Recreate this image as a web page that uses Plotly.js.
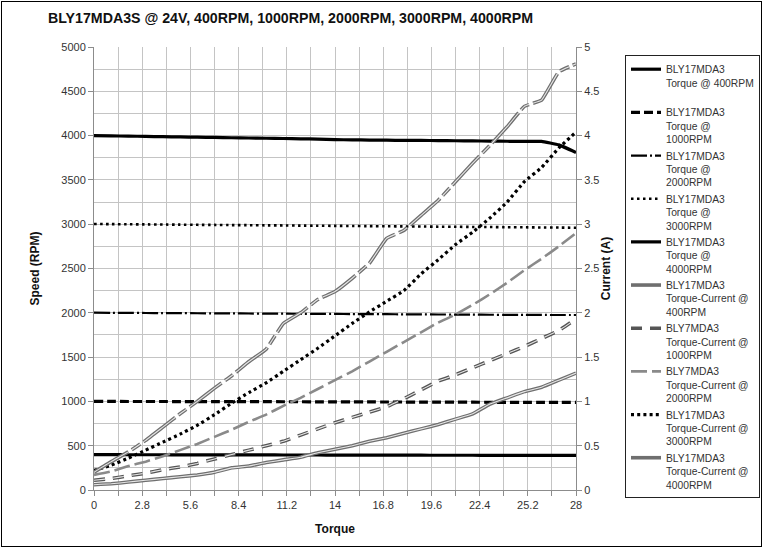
<!DOCTYPE html>
<html>
<head>
<meta charset="utf-8">
<script src="https://cdn.plot.ly/plotly-3.0.1.min.js"></script>
<style>
  html, body { margin: 0; padding: 0; background: #fff; }
  #wrap { position: relative; width: 763px; height: 548px; }
  #chart { position: absolute; left: 0; top: 0; width: 763px; height: 548px; }
  #frame { position: absolute; left: 1px; top: 1px; width: 759px; height: 544px; border: 1px solid #000; pointer-events: none; }
</style>
</head>
<body>
<div id="wrap"><div id="chart"></div><div id="frame"></div></div>
<script>
const torque = [0,1,2,3,4,5,6,7,8,9,10,11,12,13,14,15,16,17,18,19,20,21,22,23,24,25,26,27,28];

const speed400  = [399,399,398,398,398,397,397,397,396,396,396,395,395,395,394,394,394,393,393,393,392,392,392,391,391,391,390,390,390];
const speed1000 = [1000,1000,999,999,999,998,998,998,997,997,997,996,996,995,995,994,994,993,993,992,992,991,991,990,990,989,989,988,988];
const speed2000 = [2001,2000,1999,1998,1997,1996,1995,1994,1993,1992,1991,1990,1989,1988,1987,1986,1985,1984,1983,1982,1981,1980,1979,1978,1977,1976,1976,1975,1975];
const speed3000 = [3002,3001,2999,2998,2996,2995,2993,2992,2990,2989,2987,2986,2984,2983,2981,2980,2978,2977,2975,2974,2972,2971,2969,2968,2966,2965,2963,2962,2960];
const speed4000 = [4000,3997,3994,3991,3988,3985,3982,3979,3976,3973,3970,3967,3964,3961,3955,3952,3950,3948,3946,3945,3944,3942,3940,3938,3936,3934,3934,3895,3810];

const cur400  = [0.06,0.07,0.09,0.11,0.13,0.15,0.17,0.20,0.25,0.27,0.31,0.34,0.37,0.42,0.46,0.50,0.55,0.59,0.64,0.69,0.74,0.80,0.86,0.97,1.04,1.11,1.16,1.24,1.32];
const cur1000 = [0.11,0.13,0.16,0.19,0.23,0.26,0.30,0.35,0.40,0.45,0.50,0.55,0.62,0.69,0.76,0.82,0.88,0.94,1.03,1.13,1.23,1.30,1.38,1.46,1.54,1.62,1.71,1.80,1.93];
const cur2000 = [0.17,0.21,0.27,0.32,0.38,0.45,0.52,0.60,0.68,0.77,0.85,0.95,1.04,1.14,1.24,1.34,1.45,1.56,1.67,1.78,1.89,1.98,2.09,2.21,2.34,2.48,2.61,2.75,2.90];
const cur3000 = [0.22,0.28,0.36,0.45,0.54,0.63,0.73,0.85,0.98,1.10,1.21,1.34,1.47,1.60,1.74,1.88,2.01,2.13,2.25,2.44,2.60,2.77,2.91,3.07,3.25,3.48,3.64,3.86,4.04];
const cur4000 = [0.20,0.32,0.43,0.56,0.71,0.86,1.00,1.15,1.29,1.45,1.59,1.88,2.00,2.15,2.24,2.39,2.56,2.84,2.93,3.10,3.27,3.48,3.69,3.89,4.10,4.33,4.40,4.72,4.81];

const xTickVals = [0,2.8,5.6,8.4,11.2,14,16.8,19.6,22.4,25.2,28];
const xTickText = ['0','2.8','5.6','8.4','11.2','14','16.8','19.6','22.4','25.2','28'];
const y2TickVals = [0,0.5,1,1.5,2,2.5,3,3.5,4,4.5,5];
const y2TickText = ['0','0.5','1','1.5','2','2.5','3','3.5','4','4.5','5'];

const names = [
  'BLY17MDA3<br>Torque @ 400RPM<br>\u00a0',
  'BLY17MDA3<br>Torque @<br>1000RPM',
  'BLY17MDA3<br>Torque @<br>2000RPM',
  'BLY17MDA3<br>Torque @<br>3000RPM',
  'BLY17MDA3<br>Torque @<br>4000RPM',
  'BLY17MDA3<br>Torque-Current @<br>400RPM',
  'BLY7MDA3<br>Torque-Current @<br>1000RPM',
  'BLY7MDA3<br>Torque-Current @<br>2000RPM',
  'BLY17MDA3<br>Torque-Current @<br>3000RPM',
  'BLY17MDA3<br>Torque-Current @<br>4000RPM'
];

function tr(y, axis, name, color, width, dash, show) {
  return {x: torque, y: y, yaxis: axis, type: 'scatter', mode: 'lines', name: name,
          showlegend: show, hoverinfo: 'skip',
          line: {color: color, width: width, dash: dash, shape: 'spline', smoothing: 0.3}};
}

const data = [
  tr(speed400,  'y', names[0], '#000', 3.2, 'solid', true),
  tr(speed1000, 'y', names[1], '#000', 3.2, '9px,4px', true),
  tr(speed2000, 'y', names[2], '#000', 2.2, '16px,3px,2px,3px', true),
  tr(speed3000, 'y', names[3], '#000', 2.6, '2.5px,3.5px', true),
  tr(speed4000, 'y', names[4], '#000', 3.2, 'solid', true),
  tr(cur400,  'y2', names[5], '#6f6f6f', 3.6, 'solid', true),
  tr(cur400,  'y2', '', '#e6e6e6', 1.1, 'solid', false),
  tr(cur1000, 'y2', names[6], '#555', 3.6, '11px,8px', true),
  tr(cur1000, 'y2', '', '#e6e6e6', 1.1, '11px,8px', false),
  tr(cur2000, 'y2', names[7], '#8a8a8a', 2.6, '16px,5px', true),
  tr(cur3000, 'y2', names[8], '#000', 3.2, '3px,3.2px', true),
  tr(cur4000, 'y2', names[9], '#6f6f6f', 3.6, '40px,4px,10px,4px', true),
  tr(cur4000, 'y2', '', '#e6e6e6', 1.1, '40px,4px,10px,4px', false)
];

const FONT = 'Arial, "Liberation Sans", Helvetica, sans-serif';
const axisCommon = {
  showline: true, linecolor: '#8c8c8c', linewidth: 1,
  ticks: 'outside', ticklen: 5, tickcolor: '#8c8c8c',
  tickfont: {family: FONT, size: 11, color: '#333'},
  zeroline: false, fixedrange: true, automargin: false
};

const layout = {
  width: 763, height: 548,
  margin: {l: 94, r: 187, t: 47, b: 58, pad: 0, autoexpand: false},
  paper_bgcolor: '#fff', plot_bgcolor: '#fff',
  font: {family: FONT, color: '#222'},
  title: {text: '<b>BLY17MDA3S @ 24V, 400RPM, 1000RPM, 2000RPM, 3000RPM, 4000RPM</b>',
          x: 48/763, xanchor: 'left', xref: 'container',
          y: 1 - 18/548, yanchor: 'middle', yref: 'container',
          font: {family: FONT, size: 14.2, color: '#111'}},
  xaxis: Object.assign({}, axisCommon, {
    range: [0, 28], tickvals: xTickVals, ticktext: xTickText,
    showgrid: true, gridcolor: '#c4c4c4', gridwidth: 1,
    minor: {tickvals: [1.4,4.2,7,9.8,12.6,15.4,18.2,21,23.8,26.6], showgrid: true, gridcolor: '#c4c4c4', ticks: 'outside', ticklen: 5, tickcolor: '#8c8c8c'},
    title: {text: '<b>Torque</b>', font: {family: FONT, size: 12, color: '#111'}, standoff: 14}
  }),
  yaxis: Object.assign({}, axisCommon, {
    range: [0, 5000], dtick: 500, tick0: 0,
    showgrid: true, gridcolor: '#c4c4c4', gridwidth: 1,
    minor: {dtick: 250, showgrid: true, gridcolor: '#c4c4c4', ticks: ''},
    title: {text: '<b>Speed (RPM)</b>', font: {family: FONT, size: 12, color: '#111'}, standoff: 19}
  }),
  yaxis2: Object.assign({}, axisCommon, {
    range: [0, 5], overlaying: 'y', side: 'right',
    tickvals: y2TickVals, ticktext: y2TickText,
    showgrid: false,
    title: {text: '<b>Current (A)</b>', font: {family: FONT, size: 12, color: '#111'}, standoff: 2}
  }),
  legend: {
    x: (760 - 94) / 482, xanchor: 'right', xref: 'paper',
    y: (490 - 55) / 443, yanchor: 'top', yref: 'paper',
    bgcolor: '#fff', bordercolor: '#222', borderwidth: 1,
    font: {family: FONT, size: 10.3, color: '#333'},
    valign: 'top', tracegroupgap: 0, itemwidth: 30
  },
  showlegend: true
};

Plotly.newPlot('chart', data, layout, {staticPlot: true, displayModeBar: false});
</script>
</body>
</html>
